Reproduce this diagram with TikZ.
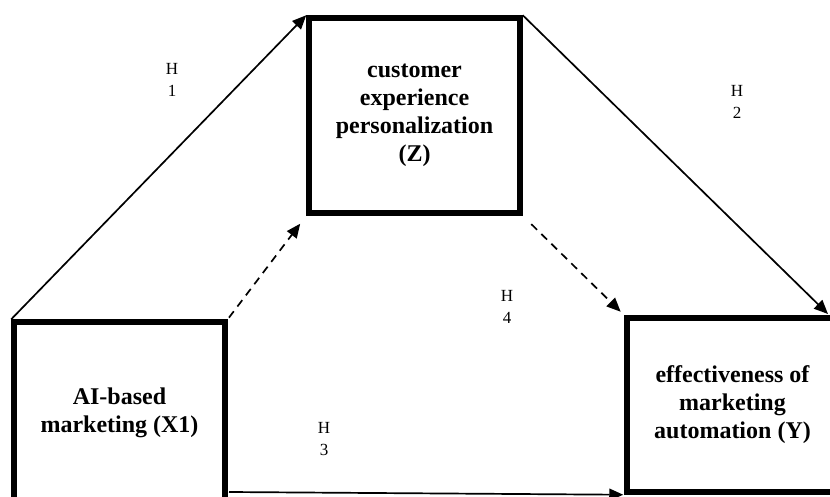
\documentclass[tikz,border=0pt]{standalone}
\usepackage{fontspec}
\setmainfont{Liberation Serif}
\usepackage{tikz}
\usetikzlibrary{arrows.meta,calc}
\tikzset{
    >={Triangle[length=14pt,width=12pt]},
    varbox/.style={draw,line width=5.5pt,rectangle,align=center,inner sep=0pt,font=\bfseries\fontsize{24}{28}\selectfont},
    hyp/.style={align=center,font=\fontsize{17}{22}\selectfont},
    path/.style={->,line width=1.7pt},
    indirect/.style={->,line width=1.7pt,dash pattern=on 8pt off 6pt}
}

\begin{document}
\begin{tikzpicture}[x=1pt,y=-1pt]
  \useasboundingbox (0,0) rectangle (830,497);

  \node[varbox,minimum width=211pt,minimum height=195pt] (cep) at (414.5, 115.5) {customer\\experience\\personalization\\(Z)};
  \node[varbox,minimum width=211pt,minimum height=181pt] (aim) at (119.5, 412.5) {AI-based\\marketing (X1)};
  \node[varbox,minimum width=211pt,minimum height=174pt] (ema) at (732.5, 405) {effectiveness of\\marketing\\automation (Y)};

  \coordinate (h2end) at (828, 314);
  \coordinate (h3start) at (229, 492);

  \draw[path] (aim.north west) -- (cep.north west);
  \draw[path] (cep.north east) -- (h2end);
  \draw[path,shorten >=1pt] (h3start) -- (ema.south west);
  \draw[indirect,shorten <=2pt,shorten >=10pt] (aim.north east) -- (cep.south west);
  \draw[indirect,shorten <=12pt,shorten >=5pt] (cep.south east) -- (ema.north west);

  \node[hyp] (h1) at (172, 80)  {H\\1};
  \node[hyp] (h2) at (737, 102) {H\\2};
  \node[hyp] (h4) at (507, 307) {H\\4};
  \node[hyp] (h3) at (324, 439) {H\\3};
\end{tikzpicture}
\end{document}
